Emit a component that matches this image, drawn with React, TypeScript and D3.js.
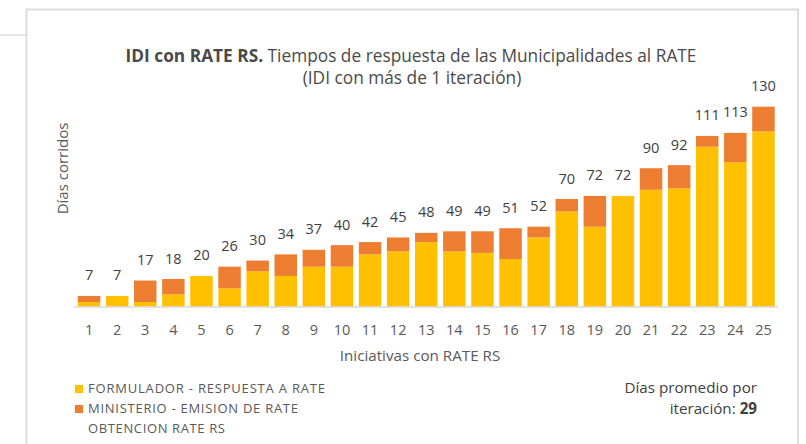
import React from "react";
import * as d3 from "d3";

const categories = ["1","2","3","4","5","6","7","8","9","10","11","12","13","14","15","16","17","18","19","20","21","22","23","24","25"];
const formulador = [3,7,3,8,20,12,23,20,26,26,34,36,42,36,35,31,45,62,52,72,76,77,104,94,114];
const ministerio = [4,0,14,10,0,14,7,14,11,14,8,9,6,13,14,20,7,8,20,0,14,15,7,19,16];
const totals = [7,7,17,18,20,26,30,34,37,40,42,45,48,49,49,51,52,70,72,72,90,92,111,113,130];
const seriesNames = ["FORMULADOR - RESPUESTA A RATE", "MINISTERIO - EMISION DE RATE"];
const seriesColors = ["#FFC000", "#ED7D31"];

const W = 806, H = 444;
const FONT = "'Open Sans', 'DejaVu Sans', sans-serif";

export default function App() {
  const x = d3.scaleBand<string>().domain(categories).range([75, 777.5]).paddingInner(0.2).paddingOuter(0.1);
  const y = d3.scaleLinear().domain([0, 130]).range([306.7, 106.7]);
  const rows = categories.map((c, i) => ({ c, f: formulador[i], m: ministerio[i] }));
  const stack = d3.stack<any>().keys(["f", "m"])(rows);
  const textCol = "#595959";
  const legendLens = [237, 210];
  return (
    <svg width={W} height={H} style={{ position: "absolute", left: 0, top: 0, background: "#fff" }} fontFamily={FONT}>
      <rect x={0} y={0} width={W} height={H} fill="#fff" />
      <line x1={0} x2={26} y1={35} y2={35} stroke="#dcdcdc" strokeWidth={1.5} />
      <path d={`M26.5,${H + 5} V9.5 H798 V${H + 5}`} fill="none" stroke="#dcdcdc" strokeWidth={2} />
      <text x={411} y={62} textAnchor="middle" fontSize={17.3} fill="#4a4a4a">
        <tspan fontWeight="bold">IDI con RATE RS.</tspan>
        <tspan> Tiempos de respuesta de las Municipalidades al RATE</tspan>
      </text>
      <text x={412} y={84} textAnchor="middle" fontSize={17.3} fill="#4a4a4a">(IDI con más de 1 iteración)</text>
      {stack.map((s, si) => (
        <g key={si} fill={seriesColors[si]}>
          {s.map((d: any, i: number) => (
            d[1] - d[0] > 0 ? (
              <rect key={i} x={x(categories[i])} width={x.bandwidth()} y={y(d[1])} height={y(d[0]) - y(d[1])} />
            ) : null
          ))}
        </g>
      ))}
      <line x1={74} x2={778} y1={307} y2={307} stroke="#d9d9d9" strokeWidth={1.5} />
      {categories.map((c) => (
        <text key={c} x={(x(c) as number) + x.bandwidth() / 2} y={335} textAnchor="middle" fontSize={14.5} fill={textCol}>{c}</text>
      ))}
      {categories.map((c, i) => (
        <text key={"l" + c} x={(x(c) as number) + x.bandwidth() / 2} y={y(totals[i]) - 15.5} textAnchor="middle" fontSize={14.5} fill="#404040">{totals[i]}</text>
      ))}
      <text x={420} y={361} textAnchor="middle" fontSize={15.2} fill={textCol}>Iniciativas con RATE RS</text>
      <text transform="translate(68,168.5) rotate(-90)" textAnchor="middle" fontSize={15} fill={textCol}>Días corridos</text>
      {seriesNames.map((n, i) => (
        <g key={n}>
          <rect x={75} y={385 + i * 20} width={8} height={8} fill={seriesColors[i]} />
          <text x={88} y={393 + i * 20} fontSize={13} fill={textCol} textLength={legendLens[i]} lengthAdjust="spacing">{n}</text>
        </g>
      ))}
      <text x={88} y={433} fontSize={13} fill={textCol} textLength={137} lengthAdjust="spacing">OBTENCION RATE RS</text>
      <text x={757} y={393} textAnchor="end" fontSize={15.2} fill="#404040">Días promedio por</text>
      <text x={757} y={414} textAnchor="end" fontSize={15.2} fill="#404040">
        <tspan>iteración: </tspan><tspan fontWeight="bold">29</tspan>
      </text>
    </svg>
  );
}
